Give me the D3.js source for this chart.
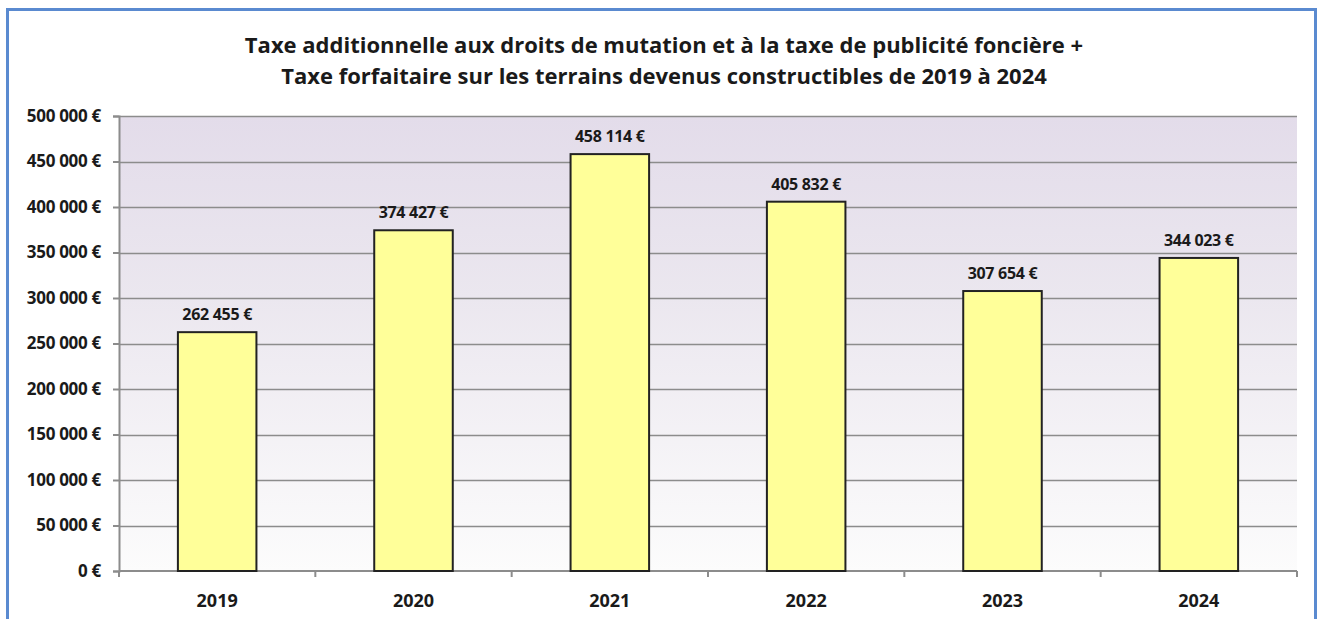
<!DOCTYPE html>
<html>
<head>
<meta charset="utf-8">
<script src="https://cdn.jsdelivr.net/npm/d3@7"></script>
<style>
  body { margin: 0; background: #fff; }
  svg text { font-family: "Open Sans", Lato, sans-serif; font-weight: bold; fill: #1a1a1a; }
</style>
</head>
<body>
<div id="chart"></div>
<script>
var years = ["2019", "2020", "2021", "2022", "2023", "2024"];
var values = [262455, 374427, 458114, 405832, 307654, 344023];
var yTicks = [0, 50000, 100000, 150000, 200000, 250000, 300000, 350000, 400000, 450000, 500000];
var titleLines = [
    "Taxe additionnelle aux droits de mutation et à la taxe de publicité foncière +",
    "Taxe forfaitaire sur les terrains devenus constructibles de 2019 à 2024"
];

var width = 1320, height = 619;
var margin = {top: 116, right: 23, bottom: 48, left: 119};

function euro(v) {
    // french thousands separator
    var s = String(v).replace(/\B(?=(\d{3})+(?!\d))/g, " ");
    return s + " €";
}

var svg = d3.select("#chart").append("svg")
    .attr("width", width)
    .attr("height", height);

//frame
svg.append("rect")
    .attr("x", 7.5).attr("y", 9.5)
    .attr("width", 1308).attr("height", 640)
    .attr("fill", "#fff")
    .attr("stroke", "#5a8ad0")
    .attr("stroke-width", 3);

//gradient for plot area
var grad = svg.append("defs").append("linearGradient")
    .attr("id", "bg").attr("x1", 0).attr("y1", 0).attr("x2", 0).attr("y2", 1);
grad.append("stop").attr("offset", "0%").attr("stop-color", "#e3dcea");
grad.append("stop").attr("offset", "40%").attr("stop-color", "#ebe7ef");
grad.append("stop").attr("offset", "100%").attr("stop-color", "#fcfcfc");

var x = d3.scaleBand()
    .domain(years)
    .range([margin.left, width - margin.right])
    .paddingInner(0.6)
    .paddingOuter(0.3);

var y = d3.scaleLinear()
    .domain([0, 500000])
    .range([height - margin.bottom, margin.top]);

svg.append("rect")
    .attr("x", margin.left)
    .attr("y", margin.top)
    .attr("width", width - margin.right - margin.left)
    .attr("height", height - margin.bottom - margin.top)
    .attr("fill", "url(#bg)");

//grid
svg.append("g").selectAll("line")
    .data(yTicks.slice(1))
    .join("line")
    .attr("x1", margin.left).attr("x2", width - margin.right)
    .attr("y1", function (d) { return Math.round(y(d)) + 0.5; })
    .attr("y2", function (d) { return Math.round(y(d)) + 0.5; })
    .attr("stroke", "#8c8c8c")
    .attr("stroke-width", 1.5);

//y axis
var yAxis = svg.append("g")
    .attr("transform", "translate(" + margin.left + ",0)")
    .call(d3.axisLeft(y).tickValues(yTicks).tickSize(6).tickPadding(12).tickFormat(euro));
yAxis.selectAll("line, path").attr("stroke", "#8c8c8c").attr("stroke-width", 2);
yAxis.selectAll("text").attr("font-size", 17).attr("fill", "#1a1a1a")
    .attr("letter-spacing", -0.3);

//x axis, ticks between categories
var bounds = d3.range(years.length + 1).map(function (i) {
    return margin.left + i * (width - margin.right - margin.left) / years.length;
});
var xAxis = svg.append("g");
xAxis.append("line")
    .attr("x1", margin.left).attr("x2", width - margin.right)
    .attr("y1", y(0)).attr("y2", y(0))
    .attr("stroke", "#8c8c8c").attr("stroke-width", 2);
xAxis.selectAll(".tk").data(bounds).join("line")
    .attr("x1", function (d) { return d; }).attr("x2", function (d) { return d; })
    .attr("y1", y(0)).attr("y2", y(0) + 6)
    .attr("stroke", "#8c8c8c").attr("stroke-width", 2);
xAxis.selectAll("text").data(years).join("text")
    .attr("x", function (d) { return x(d) + x.bandwidth() / 2; })
    .attr("y", 607)
    .attr("text-anchor", "middle")
    .attr("font-size", 18)
    .text(function (d) { return d; });

//bars
svg.append("g").selectAll("rect")
    .data(values)
    .join("rect")
    .attr("x", function (d, i) { return x(years[i]); })
    .attr("y", function (d) { return y(d); })
    .attr("width", x.bandwidth())
    .attr("height", function (d) { return y(0) - y(d); })
    .attr("fill", "#ffff99")
    .attr("stroke", "#222")
    .attr("stroke-width", 2);

//value labels
svg.append("g").selectAll("text")
    .data(values)
    .join("text")
    .attr("x", function (d, i) { return x(years[i]) + x.bandwidth() / 2; })
    .attr("y", function (d) { return y(d) - 12; })
    .attr("text-anchor", "middle")
    .attr("font-size", 16)
    .attr("letter-spacing", -0.3)
    .text(euro);

//title
svg.append("g").selectAll("text")
    .data(titleLines)
    .join("text")
    .attr("x", 664)
    .attr("y", function (d, i) { return 53 + i * 31; })
    .attr("text-anchor", "middle")
    .attr("font-size", 22)
    .text(function (d) { return d; });
</script>
</body>
</html>
